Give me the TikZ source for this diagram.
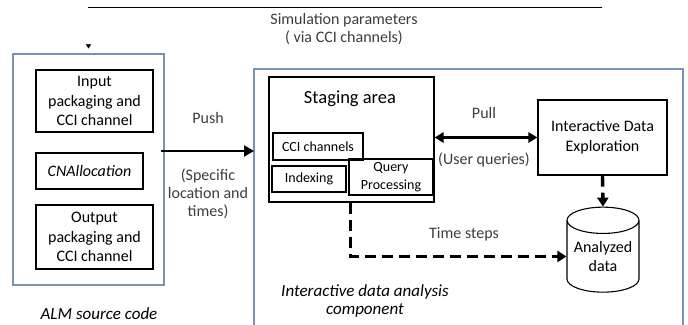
\documentclass[tikz,border=0pt]{standalone}
\usepackage{fontspec}
\setmainfont{Carlito}
\usetikzlibrary{shapes.geometric}
\usetikzlibrary{calc}
\usetikzlibrary{arrows.meta}
\usetikzlibrary{positioning}
\definecolor{frameblue}{RGB}{120,146,180}
\definecolor{labelgray}{RGB}{60,60,60}

\begin{document}
\begin{tikzpicture}[x=1pt,y=-1pt]
		\tikzstyle{Frame} = [draw=frameblue, line width=1.1pt]
		\tikzstyle{Box} = [draw=black, line width=1.1pt, align=center, inner sep=0pt,
			font=\fontsize{16}{19.5}\selectfont]
		\tikzstyle{SmallBox} = [Box, font=\fontsize{14}{18}\selectfont]
		\tikzstyle{Label} = [text=labelgray, align=center, font=\fontsize{16}{18}\selectfont]
		\tikzstyle{Caption} = [align=center, inner sep=1pt, font=\fontsize{17}{18.5}\selectfont\itshape]
		\tikzstyle{Push} = [line width=2.8pt, -{Triangle[length=10pt,width=11pt]}]
		\tikzstyle{Pull} = [line width=2.6pt, {Triangle[length=9pt,width=10pt]}-{Triangle[length=9pt,width=10pt]}]
		\tikzstyle{Steps} = [line width=3.4pt, dash pattern=on 11pt off 6pt, -{Triangle[length=9pt,width=11pt]}]

		\useasboundingbox (0,0) rectangle (688,324);

		%Simulation parameters line on top
		\coordinate (TopL) at (88,7);
		\coordinate (TopR) at (602,7);
		\draw[line width=1pt] (TopL) -- (TopR);
		\node[Label](SimPar) at (344,29){Simulation parameters\\( via CCI channels)};

		%ALM source code
		\node[Frame, minimum width=151, minimum height=231](ALM) at (88.5,169.5){};
		\draw[-{Triangle[length=4pt,width=5pt]}] ($(ALM.north)+(0,-8)$) -- ($(ALM.north)+(0,-5)$);
		\node[Box, minimum width=117, minimum height=62](Input) at (94.5,101){Input\\packaging and\\CCI channel};
		\node[Box, minimum width=107, minimum height=36, font=\fontsize{16}{19.5}\selectfont\itshape](CNA) at (89.5,171){CNAllocation};
		\node[Box, minimum width=117, minimum height=64](Output) at (94.5,237){Output\\packaging and\\CCI channel};
		\node[Caption](ALMLabel) at (99,314){ALM source code};

		%Interactive data analysis component (runs off the bottom)
		\coordinate (DA) at (254,69);
		\draw[Frame] (254,326) -- (DA) -- (683,69) -- (683,326);
		\node[Caption](DALabel) at (365,301){Interactive data analysis\\component};

		%Staging area
		\node[Box, minimum width=165, minimum height=125](Staging) at (351.5,139.5){};
		\node[Box, draw=none, font=\fontsize{18.5}{20}\selectfont](StagingTxt) at (350,99){Staging area};
		\node[SmallBox, minimum width=90, minimum height=27](CCI) at (318,146.5){CCI channels};
		\node[SmallBox, minimum width=74, minimum height=26](Index) at (309,179){Indexing};
		\node[SmallBox, minimum width=84, minimum height=36](Query) at (391,177){Query\\Processing};

		%Exploration and data store
		\node[Box, minimum width=129, minimum height=75](IDE) at (602.5,137.5){Interactive Data\\Exploration};
		\node[Box, cylinder, shape border rotate=90, aspect=0.45, minimum width=72, minimum height=85](DB) at (603,256.5){Analyzed\\data};

		%Push from the simulation
		\coordinate (PushStart) at ($(ALM.east)+(-4,0)$);
		\draw[Push] (PushStart |- 0,151) -- (DA |- 0,151);
		\node[Label](Push) at (208,118){Push};
		\node[Label](Where) at (208,194){(Specific\\location and\\times)};

		%Pull for user queries
		\draw[Pull] (Staging.east |- IDE) -- (IDE.west);
		\node[Label](PullTxt) at (484,113){Pull};
		\node[Label](UserQ) at (484,160){(User queries)};

		%Time steps to analyzed data
		\draw[Steps] (IDE.south) -- (DB.north);
		\draw[Steps] ($(Staging.south -| Query.west)+(2,0)$) |- (DB.west);
		\node[Label](TimeSteps) at (464,234){Time steps};
\end{tikzpicture}
\end{document}
